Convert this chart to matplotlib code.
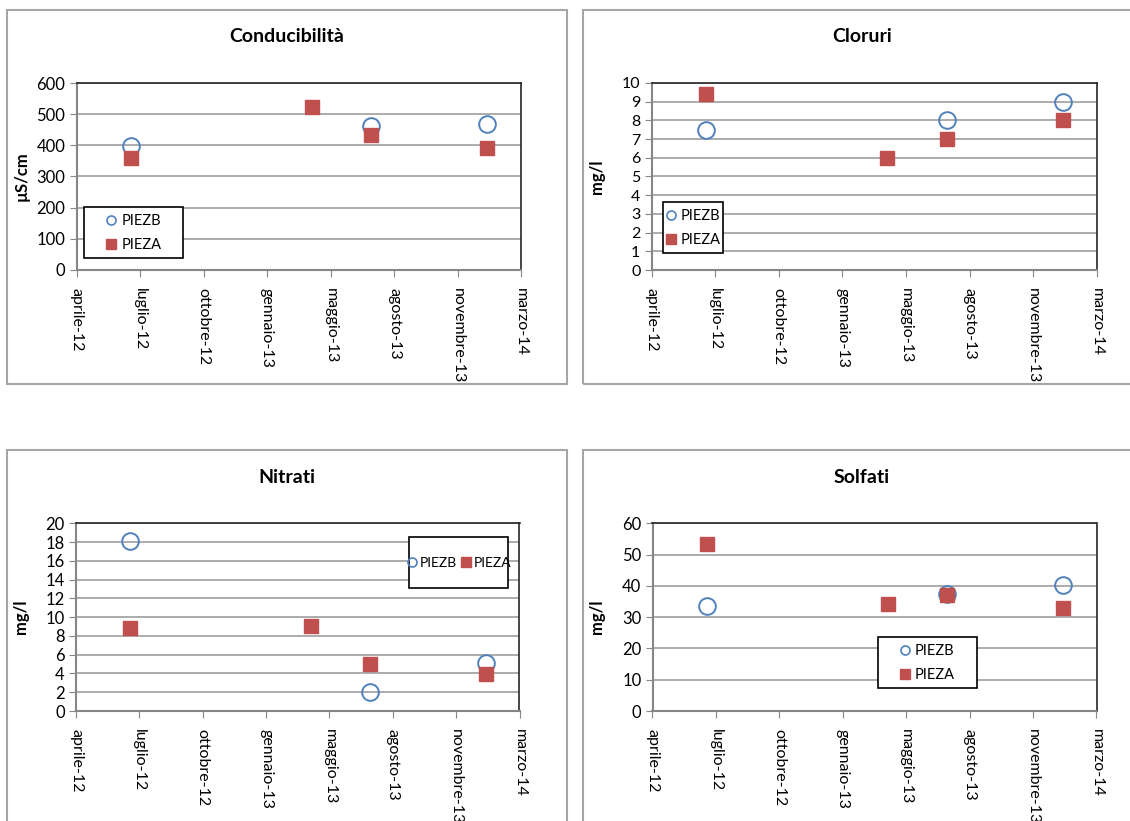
import datetime as dt
import matplotlib
matplotlib.use("Agg")
import matplotlib.pyplot as plt
from matplotlib.patches import Rectangle
from matplotlib.lines import Line2D

plt.rcParams['font.family'] = ['Lato', 'DejaVu Sans']

# sampling dates and values
dates = [dt.date(2012, 6, 26), dt.date(2013, 4, 7), dt.date(2013, 7, 9), dt.date(2014, 1, 8)]
nan = float('nan')

cond_piezb = [398, nan, 462, 468]
cond_pieza = [360, 522, 432, 392]
clor_piezb = [7.5, nan, 8.0, 9.0]
clor_pieza = [9.4, 6.0, 7.0, 8.0]
nitr_piezb = [18.1, nan, 2.0, 5.1]
nitr_pieza = [8.8, 9.1, 5.0, 3.9]
solf_piezb = [33.6, nan, 37.4, 40.2]
solf_pieza = [53.5, 34.3, 37.2, 33.0]

titles = ["Conducibilità", "Cloruri", "Nitrati", "Solfati"]
ylabels = ["µS/cm", "mg/l", "mg/l", "mg/l"]
ymax = [600, 10, 20, 60]
ystep = [100, 1, 2, 10]
tick_labels = ["aprile-12", "luglio-12", "ottobre-12", "gennaio-13",
               "maggio-13", "agosto-13", "novembre-13", "marzo-14"]
x_start = dt.date(2012, 4, 1)  # excel axis: 100-day major unit

W, H = 1130, 821
BLUE = '#4F81BD'
RED = '#C0504D'


def fx(px):
    return px / W


def fy(py):
    return 1 - py / H


fig = plt.figure(figsize=(W / 100, H / 100), dpi=100)

# panel frames (pixel boxes)
frames = [(7, 10, 567.5, 384), (583, 10, 1142, 384), (7, 450, 567.5, 830), (583, 450, 1142, 830)]
# plot areas: left, top, right, bottom
plots = [(76.5, 83, 521, 270), (651.5, 83, 1096.7, 270), (76, 523.3, 519.5, 711), (652.5, 523.3, 1096.5, 711)]
title_pos = [(287, 36), (862, 36), (287, 477), (862, 477)]
ylabel_x = [22, 597, 21, 597]
# legend boxes: left, top, right, bottom and column count
legends = [((84.3, 207.3, 182.7, 258.3), 1), ((662.5, 202.3, 723, 253.3), 1),
           ((409.3, 537.3, 508.3, 588.3), 2), ((877.5, 637.3, 976.5, 688.3), 1)]

series = [(cond_piezb, cond_pieza), (clor_piezb, clor_pieza),
          (nitr_piezb, nitr_pieza), (solf_piezb, solf_pieza)]

for f in frames:
    fig.add_artist(Rectangle((fx(f[0]), fy(f[3])), fx(f[2] - f[0]), (f[3] - f[1]) / H,
                             transform=fig.transFigure, fill=False,
                             edgecolor='#A6A6A6', lw=1.5))

ticks = [x_start + dt.timedelta(days=100 * k) for k in range(len(tick_labels))]

for i in range(4):
    l, t, r, b = plots[i]
    ax = fig.add_axes([fx(l), fy(b), fx(r - l), (b - t) / H])
    pb, pa = series[i]
    ax.plot(dates, pb, linestyle='none', marker='o', markersize=12,
            markerfacecolor='none', markeredgecolor=BLUE, markeredgewidth=1.4, zorder=3)
    ax.plot(dates, pa, linestyle='none', marker='s', markersize=9.5,
            markerfacecolor=RED, markeredgecolor=RED, zorder=3)

    ax.set_xlim(ticks[0], ticks[-1])
    ax.set_ylim(0, ymax[i])
    ax.set_yticks([ystep[i] * k for k in range(int(ymax[i] / ystep[i]) + 1)])
    ax.set_xticks(ticks)
    ax.set_xticklabels(tick_labels, rotation=-90, ha='center', va='top', fontsize=11.5)
    ax.tick_params(axis='y', labelsize=12 if i != 1 else 11.5, length=5,
                   color='#868686', pad=3)
    ax.tick_params(axis='x', length=5, color='#868686', pad=8)
    ax.grid(axis='y', color='#A6A6A6', lw=1.3)
    ax.set_axisbelow(True)
    for s in ['top', 'right']:
        ax.spines[s].set_color('#262626')
        ax.spines[s].set_linewidth(1.2)
    for s in ['left', 'bottom']:
        ax.spines[s].set_color('#868686')
        ax.spines[s].set_linewidth(1.5)

    fig.text(fx(title_pos[i][0]), fy(title_pos[i][1]), titles[i], ha='center', va='center',
             fontsize=14, fontweight='bold')
    fig.text(fx(ylabel_x[i]), fy((t + b) / 2), ylabels[i], rotation=90, ha='center',
             va='center', fontsize=12, fontweight='bold')

    (bl, bt, br, bb), ncol = legends[i]
    ax.add_patch(Rectangle((fx(bl), fy(bb)), fx(br - bl), (bb - bt) / H,
                           transform=fig.transFigure, clip_on=False, facecolor='white',
                           edgecolor='black', lw=1.2, zorder=4))
    handles = [Line2D([], [], linestyle='none', marker='o', markersize=6.5,
                      markerfacecolor='none', markeredgecolor=BLUE, markeredgewidth=1.2),
               Line2D([], [], linestyle='none', marker='s', markersize=7,
                      markerfacecolor=RED, markeredgecolor=RED)]
    leg = ax.legend(handles, ["PIEZB", "PIEZA"], loc='center',
                    bbox_to_anchor=(fx((bl + br) / 2), fy((bt + bb) / 2)),
                    bbox_transform=fig.transFigure, frameon=False, ncol=ncol,
                    fontsize=10.5 if ncol == 1 else 10, handlelength=0.8,
                    handletextpad=0.3 if ncol == 1 else 0.2,
                    labelspacing=0.7, columnspacing=0.2, borderpad=0)
    leg.set_zorder(5)

fig.savefig("out.png", dpi=100)
